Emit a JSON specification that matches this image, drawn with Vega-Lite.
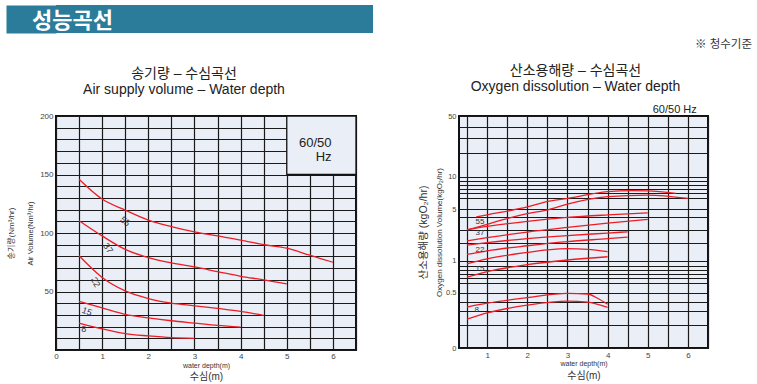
{
  "$schema": "https://vega.github.io/schema/vega-lite/v6.json",
  "padding": {"left": 6, "top": 2, "right": 4, "bottom": 0},
  "background": "white",
  "config": {
    "font": "Liberation Sans, Noto Sans CJK KR",
    "title": {"fontWeight": "normal", "color": "#222", "font": "Liberation Sans, Noto Sans CJK KR"},
    "axis": {"labelFont": "Liberation Sans", "titleFont": "Liberation Sans, Noto Sans CJK KR", "titleFontWeight": "normal", "titleColor": "#333", "labelColor": "#444"}
  },
  "datasets": {
    "air": [
      {"s": "55", "x": 0.5, "y": 146}, {"s": "55", "x": 1, "y": 129}, {"s": "55", "x": 1.5, "y": 119.5}, {"s": "55", "x": 2, "y": 111}, {"s": "55", "x": 2.5, "y": 105.5}, {"s": "55", "x": 3, "y": 101}, {"s": "55", "x": 3.5, "y": 97.5}, {"s": "55", "x": 4, "y": 94}, {"s": "55", "x": 4.5, "y": 90}, {"s": "55", "x": 5, "y": 87}, {"s": "55", "x": 5.5, "y": 81}, {"s": "55", "x": 6, "y": 75},
      {"s": "37", "x": 0.5, "y": 110.5}, {"s": "37", "x": 1, "y": 97.5}, {"s": "37", "x": 1.5, "y": 86}, {"s": "37", "x": 2, "y": 79}, {"s": "37", "x": 2.5, "y": 74.5}, {"s": "37", "x": 3, "y": 71}, {"s": "37", "x": 3.5, "y": 67}, {"s": "37", "x": 4, "y": 63}, {"s": "37", "x": 4.5, "y": 60}, {"s": "37", "x": 5, "y": 56.5},
      {"s": "22", "x": 0.5, "y": 80.5}, {"s": "22", "x": 1, "y": 62}, {"s": "22", "x": 1.5, "y": 50.5}, {"s": "22", "x": 2, "y": 44}, {"s": "22", "x": 2.5, "y": 40}, {"s": "22", "x": 3, "y": 37.8}, {"s": "22", "x": 3.5, "y": 35.5}, {"s": "22", "x": 4, "y": 33}, {"s": "22", "x": 4.5, "y": 29.5},
      {"s": "15", "x": 0.5, "y": 41.5}, {"s": "15", "x": 1, "y": 36}, {"s": "15", "x": 1.5, "y": 30.5}, {"s": "15", "x": 2, "y": 27.5}, {"s": "15", "x": 2.5, "y": 25}, {"s": "15", "x": 3, "y": 23}, {"s": "15", "x": 3.5, "y": 21}, {"s": "15", "x": 4, "y": 19.5},
      {"s": "8", "x": 0.5, "y": 23}, {"s": "8", "x": 1, "y": 18}, {"s": "8", "x": 1.5, "y": 14}, {"s": "8", "x": 2, "y": 12}, {"s": "8", "x": 2.5, "y": 10.5}, {"s": "8", "x": 3, "y": 10}
    ],
    "airLbl": [
      {"t": "55", "x": 1.5, "y": 110},
      {"t": "37", "x": 1.13, "y": 87},
      {"t": "22", "x": 0.86, "y": 58},
      {"t": "15", "x": 0.67, "y": 33},
      {"t": "8", "x": 0.6, "y": 17.6}
    ],
    "oxy": [
      {"s": "55", "hz": "60", "x": 0.73, "y": 4.03}, {"s": "55", "hz": "60", "x": 1, "y": 4.29}, {"s": "55", "hz": "60", "x": 2, "y": 5.1}, {"s": "55", "hz": "60", "x": 2.54, "y": 5.37}, {"s": "55", "hz": "60", "x": 3, "y": 5.5}, {"s": "55", "hz": "60", "x": 4, "y": 6.22}, {"s": "55", "hz": "60", "x": 4.6, "y": 6.5}, {"s": "55", "hz": "60", "x": 5, "y": 6.45}, {"s": "55", "hz": "60", "x": 5.7, "y": 5.94},
      {"s": "55", "hz": "50", "x": 0.5, "y": 2.98}, {"s": "55", "hz": "50", "x": 1, "y": 3.43}, {"s": "55", "hz": "50", "x": 1.54, "y": 3.93}, {"s": "55", "hz": "50", "x": 2, "y": 4.44}, {"s": "55", "hz": "50", "x": 2.54, "y": 4.94}, {"s": "55", "hz": "50", "x": 3, "y": 5.23}, {"s": "55", "hz": "50", "x": 4, "y": 5.65}, {"s": "55", "hz": "50", "x": 5, "y": 5.79}, {"s": "55", "hz": "50", "x": 6, "y": 5.5},
      {"s": "37", "hz": "60", "x": 0.5, "y": 3.0}, {"s": "37", "hz": "60", "x": 1, "y": 3.26}, {"s": "37", "hz": "60", "x": 2, "y": 3.67}, {"s": "37", "hz": "60", "x": 3, "y": 3.98}, {"s": "37", "hz": "60", "x": 4, "y": 4.28}, {"s": "37", "hz": "60", "x": 5, "y": 4.53},
      {"s": "37", "hz": "50", "x": 0.5, "y": 2.14}, {"s": "37", "hz": "50", "x": 1, "y": 2.39}, {"s": "37", "hz": "50", "x": 2, "y": 2.82}, {"s": "37", "hz": "50", "x": 3, "y": 3.18}, {"s": "37", "hz": "50", "x": 4, "y": 3.52}, {"s": "37", "hz": "50", "x": 5, "y": 3.82},
      {"s": "22", "hz": "60", "x": 0.5, "y": 1.86}, {"s": "22", "hz": "60", "x": 1, "y": 2.0}, {"s": "22", "hz": "60", "x": 2, "y": 2.31}, {"s": "22", "hz": "60", "x": 3, "y": 2.55}, {"s": "22", "hz": "60", "x": 4, "y": 2.74}, {"s": "22", "hz": "60", "x": 4.5, "y": 2.84},
      {"s": "22", "hz": "50", "x": 0.5, "y": 1.35}, {"s": "22", "hz": "50", "x": 1, "y": 1.55}, {"s": "22", "hz": "50", "x": 2, "y": 1.83}, {"s": "22", "hz": "50", "x": 3, "y": 2.08}, {"s": "22", "hz": "50", "x": 4, "y": 2.31}, {"s": "22", "hz": "50", "x": 4.5, "y": 2.43},
      {"s": "15", "hz": "60", "x": 0.5, "y": 0.935}, {"s": "15", "hz": "60", "x": 1, "y": 1.1}, {"s": "15", "hz": "60", "x": 2, "y": 1.46}, {"s": "15", "hz": "60", "x": 2.5, "y": 1.6}, {"s": "15", "hz": "60", "x": 3, "y": 1.67}, {"s": "15", "hz": "60", "x": 3.5, "y": 1.63}, {"s": "15", "hz": "60", "x": 4, "y": 1.5},
      {"s": "15", "hz": "50", "x": 0.5, "y": 0.61}, {"s": "15", "hz": "50", "x": 1, "y": 0.75}, {"s": "15", "hz": "50", "x": 2, "y": 0.92}, {"s": "15", "hz": "50", "x": 3, "y": 1.04}, {"s": "15", "hz": "50", "x": 4, "y": 1.22},
      {"s": "8", "hz": "60", "x": 0.5, "y": 0.346}, {"s": "8", "hz": "60", "x": 1, "y": 0.386}, {"s": "8", "hz": "60", "x": 2, "y": 0.447}, {"s": "8", "hz": "60", "x": 3, "y": 0.494}, {"s": "8", "hz": "60", "x": 3.5, "y": 0.487}, {"s": "8", "hz": "60", "x": 3.75, "y": 0.44}, {"s": "8", "hz": "60", "x": 4, "y": 0.375},
      {"s": "8", "hz": "50", "x": 0.5, "y": 0.241}, {"s": "8", "hz": "50", "x": 1, "y": 0.288}, {"s": "8", "hz": "50", "x": 2, "y": 0.365}, {"s": "8", "hz": "50", "x": 3, "y": 0.408}, {"s": "8", "hz": "50", "x": 3.5, "y": 0.397}, {"s": "8", "hz": "50", "x": 4, "y": 0.342}
    ],
    "oxyLbl": [
      {"t": "55", "x": 0.82, "y": 3.63},
      {"t": "37", "x": 0.82, "y": 2.74},
      {"t": "22", "x": 0.82, "y": 1.59},
      {"t": "15", "x": 0.82, "y": 0.82},
      {"t": "8", "x": 0.74, "y": 0.31}
    ]
  },
  "spacing": 11,
  "vconcat": [
    {
      "spacing": 279,
      "hconcat": [
        {
          "width": 317, "height": 28,
          "view": {"fill": "#2b7c9a", "stroke": null},
          "title": {"text": "성능곡선", "anchor": "start", "frame": "bounds", "offset": -31, "dx": 1, "color": "white", "fontSize": 22, "fontWeight": "bold", "font": "Noto Sans CJK KR"},
          "data": {"values": [{"v": 1}]},
          "mark": {"type": "point", "opacity": 0},
          "encoding": {
            "y": {"field": "v", "type": "quantitative", "axis": {"orient": "left", "domain": true, "domainColor": "#2b7c9a", "domainWidth": 50, "domainCap": "butt", "offset": 25, "labels": false, "ticks": false, "grid": false, "title": null}}
          }
        },
        {
          "width": 100, "height": 28,
          "view": {"stroke": null},
          "title": {"text": "※ 청수기준", "orient": "bottom", "anchor": "end", "offset": 6, "fontSize": 11.5, "color": "#333"},
          "data": {"values": [{"v": 1}]},
          "mark": {"type": "point", "opacity": 0},
          "encoding": {}
        }
      ]
    },
    {
      "spacing": 59,
      "hconcat": [
        {
          "width": 300, "height": 234,
          "view": {"fill": "#e9eef7", "stroke": "#111", "strokeWidth": 2},
          "title": {"text": ["송기량 – 수심곡선", "Air supply volume – Water depth"], "fontSize": 14, "lineHeight": 16, "offset": 15, "dx": -22},
          "resolve": {"axis": {"x": "independent", "y": "independent"}},
          "layer": [
            {
              "data": {"name": "air"},
              "mark": {"type": "line", "color": "#ee1c25", "strokeWidth": 1.3, "interpolate": "monotone"},
              "encoding": {
                "x": {"field": "x", "type": "quantitative", "scale": {"domain": [0, 6.5], "nice": false, "zero": false},
                  "axis": {"orient": "bottom", "values": [0, 0.5, 1, 1.5, 2, 2.5, 3, 3.5, 4, 4.5, 5, 5.5, 6, 6.5], "labelExpr": "datum.value % 1 == 0 && datum.value <= 6 ? '' + datum.value : ''", "labelFlush": false, "labelOverlap": false, "grid": true, "gridColor": "#1a1a1a", "gridWidth": 1.2, "gridOpacity": 1, "ticks": false, "tickSize": 0, "domain": false, "labelFontSize": 8, "labelPadding": 2, "title": "water depth(m)", "titleFontSize": 7, "titlePadding": 1}},
                "y": {"field": "y", "type": "quantitative", "scale": {"domain": [0, 200], "nice": false, "zero": false},
                  "axis": {"orient": "left", "values": [0, 10, 20, 30, 40, 50, 60, 70, 80, 90, 100, 110, 120, 130, 140, 150, 160, 170, 180, 190, 200], "labelExpr": "datum.value % 50 == 0 && datum.value > 0 ? '' + datum.value : ''", "labelFlush": false, "labelOverlap": false, "grid": true, "gridColor": "#1a1a1a", "gridWidth": 1.2, "gridOpacity": 1, "ticks": false, "tickSize": 0, "domain": false, "labelFontSize": 8, "labelPadding": 3, "title": "Air Volume(Nm³/hr)", "titleFontSize": 7.5, "titlePadding": 5}},
                "detail": {"field": "s"}
              }
            },
            {
              "data": {"values": [{"x1": 5, "x2": 6.5, "y1": 150, "y2": 200}]},
              "mark": {"type": "rect", "fill": "#e9eef7", "stroke": "#111", "strokeWidth": 1.3},
              "encoding": {
                "x": {"field": "x1", "type": "quantitative", "scale": {"domain": [0, 6.5], "nice": false, "zero": false},
                  "axis": {"orient": "bottom", "title": "수심(m)", "titleFontSize": 10, "labels": false, "ticks": false, "domain": false, "grid": false, "titlePadding": 21}},
                "x2": {"field": "x2"},
                "y": {"field": "y1", "type": "quantitative", "scale": {"domain": [0, 200], "nice": false, "zero": false},
                  "axis": {"orient": "left", "title": "송기량(Nm³/hr)", "titleFontSize": 8, "labels": false, "ticks": false, "domain": false, "grid": false, "titlePadding": 41}},
                "y2": {"field": "y2"}
              }
            },
            {
              "data": {"values": [{"t": "60/50", "x": 5.97, "y": 176.8}, {"t": "Hz", "x": 5.97, "y": 165.3}]},
              "mark": {"type": "text", "align": "right", "baseline": "middle", "fontSize": 13, "color": "#222"},
              "encoding": {
                "x": {"field": "x", "type": "quantitative", "scale": {"domain": [0, 6.5], "nice": false, "zero": false}, "axis": null},
                "y": {"field": "y", "type": "quantitative", "scale": {"domain": [0, 200], "nice": false, "zero": false}, "axis": null},
                "text": {"field": "t"}
              }
            },
            {
              "data": {"name": "airLbl"},
              "transform": [{"filter": "datum.t == '55'"}],
              "mark": {"type": "text", "fontSize": 9, "color": "#333", "angle": 40, "baseline": "middle"},
              "encoding": {
                "x": {"field": "x", "type": "quantitative", "scale": {"domain": [0, 6.5], "nice": false, "zero": false}, "axis": null},
                "y": {"field": "y", "type": "quantitative", "scale": {"domain": [0, 200], "nice": false, "zero": false}, "axis": null},
                "text": {"field": "t"}
              }
            },
            {
              "data": {"name": "airLbl"},
              "transform": [{"filter": "datum.t == '37'"}],
              "mark": {"type": "text", "fontSize": 9, "color": "#333", "angle": 55, "baseline": "middle"},
              "encoding": {
                "x": {"field": "x", "type": "quantitative", "scale": {"domain": [0, 6.5], "nice": false, "zero": false}, "axis": null},
                "y": {"field": "y", "type": "quantitative", "scale": {"domain": [0, 200], "nice": false, "zero": false}, "axis": null},
                "text": {"field": "t"}
              }
            },
            {
              "data": {"name": "airLbl"},
              "transform": [{"filter": "datum.t == '22'"}],
              "mark": {"type": "text", "fontSize": 9, "color": "#333", "angle": 62, "baseline": "middle"},
              "encoding": {
                "x": {"field": "x", "type": "quantitative", "scale": {"domain": [0, 6.5], "nice": false, "zero": false}, "axis": null},
                "y": {"field": "y", "type": "quantitative", "scale": {"domain": [0, 200], "nice": false, "zero": false}, "axis": null},
                "text": {"field": "t"}
              }
            },
            {
              "data": {"name": "airLbl"},
              "transform": [{"filter": "datum.t == '15'"}],
              "mark": {"type": "text", "fontSize": 9, "color": "#333", "angle": 20, "baseline": "middle"},
              "encoding": {
                "x": {"field": "x", "type": "quantitative", "scale": {"domain": [0, 6.5], "nice": false, "zero": false}, "axis": null},
                "y": {"field": "y", "type": "quantitative", "scale": {"domain": [0, 200], "nice": false, "zero": false}, "axis": null},
                "text": {"field": "t"}
              }
            },
            {
              "data": {"name": "airLbl"},
              "transform": [{"filter": "datum.t == '8'"}],
              "mark": {"type": "text", "fontSize": 9, "color": "#333", "baseline": "middle"},
              "encoding": {
                "x": {"field": "x", "type": "quantitative", "scale": {"domain": [0, 6.5], "nice": false, "zero": false}, "axis": null},
                "y": {"field": "y", "type": "quantitative", "scale": {"domain": [0, 200], "nice": false, "zero": false}, "axis": null},
                "text": {"field": "t"}
              }
            }
          ]
        },
        {
          "width": 249, "height": 232,
          "view": {"fill": "#e9eef7", "stroke": "#111", "strokeWidth": 2},
          "title": {"text": ["산소용해량 – 수심곡선", "Oxygen dissolution – Water depth"], "fontSize": 14, "lineHeight": 16, "offset": 10, "dx": -8},
          "resolve": {"axis": {"x": "independent", "y": "independent"}},
          "layer": [
            {
              "data": {"name": "oxy"},
              "mark": {"type": "line", "color": "#ee1c25", "strokeWidth": 1.3, "interpolate": "monotone"},
              "encoding": {
                "x": {"field": "x", "type": "quantitative", "scale": {"domain": [0.3, 6.5], "nice": false, "zero": false},
                  "axis": {"orient": "bottom", "values": [0.5, 1, 1.5, 2, 2.5, 3, 3.5, 4, 4.5, 5, 5.5, 6, 6.5], "labelExpr": "datum.value % 1 == 0 && datum.value <= 6 ? '' + datum.value : ''", "labelFlush": false, "labelOverlap": false, "grid": true, "gridColor": "#1a1a1a", "gridWidth": 1.2, "gridOpacity": 1, "ticks": false, "tickSize": 0, "domain": false, "labelFontSize": 8, "labelPadding": 3, "title": "water depth(m)", "titleFontSize": 7, "titlePadding": 0}},
                "y": {"field": "y", "type": "quantitative", "scale": {"type": "linear", "domain": [0.1, 0.2, 0.3, 0.4, 0.5, 0.55, 0.6, 0.7, 0.8, 0.9, 1, 2, 3, 4, 5, 5.5, 6, 7, 8, 9, 10, 20, 30, 40, 50], "range": [232, 208.6, 195.4, 185.9, 176.8, 166.9, 161.6, 157.5, 153.9, 149.6, 144.7, 126.7, 113.7, 101.2, 93.1, 82.4, 76.6, 72.6, 69.4, 65.3, 60.8, 37.3, 21.9, 10.7, 0], "nice": false, "zero": false},
                  "axis": {"orient": "left", "values": [0.1, 0.2, 0.3, 0.4, 0.5, 0.55, 0.6, 0.7, 0.8, 0.9, 1, 2, 3, 4, 5, 5.5, 6, 7, 8, 9, 10, 20, 30, 40, 50], "labelExpr": "datum.value == 0.1 ? '0' : ((datum.value == 50 || datum.value == 10 || datum.value == 5 || datum.value == 1 || datum.value == 0.5) ? '' + datum.value : '')", "labelFlush": false, "labelOverlap": false, "grid": true, "gridColor": "#1a1a1a", "gridWidth": 1.2, "gridOpacity": 1, "ticks": false, "tickSize": 0, "domain": false, "labelFontSize": 7.5, "labelPadding": 3, "title": "Oxygen dissolution Volume(kgO₂/hr)", "titleFontSize": 8, "titlePadding": 2}},
                "detail": [{"field": "s"}, {"field": "hz"}]
              }
            },
            {
              "data": {"values": [{"t": "60/50  Hz", "x": 6.22, "y": 55.9}]},
              "mark": {"type": "text", "align": "right", "baseline": "middle", "fontSize": 11, "color": "#222"},
              "encoding": {
                "x": {"field": "x", "type": "quantitative", "scale": {"domain": [0.3, 6.5], "nice": false, "zero": false},
                  "axis": {"orient": "bottom", "title": "수심(m)", "titleFontSize": 10, "labels": false, "ticks": false, "domain": false, "grid": false, "titlePadding": 22}},
                "y": {"field": "y", "type": "quantitative", "scale": {"type": "linear", "domain": [0.1, 0.2, 0.3, 0.4, 0.5, 0.55, 0.6, 0.7, 0.8, 0.9, 1, 2, 3, 4, 5, 5.5, 6, 7, 8, 9, 10, 20, 30, 40, 50], "range": [232, 208.6, 195.4, 185.9, 176.8, 166.9, 161.6, 157.5, 153.9, 149.6, 144.7, 126.7, 113.7, 101.2, 93.1, 82.4, 76.6, 72.6, 69.4, 65.3, 60.8, 37.3, 21.9, 10.7, 0], "nice": false, "zero": false},
                  "axis": {"orient": "left", "title": "산소용해량 (kgO₂/hr)", "titleFontSize": 10.5, "labels": false, "ticks": false, "domain": false, "grid": false, "titlePadding": 31}},
                "text": {"field": "t"}
              }
            },
            {
              "data": {"name": "oxyLbl"},
              "mark": {"type": "text", "fontSize": 8, "color": "#333", "baseline": "middle"},
              "encoding": {
                "x": {"field": "x", "type": "quantitative", "scale": {"domain": [0.3, 6.5], "nice": false, "zero": false}, "axis": null},
                "y": {"field": "y", "type": "quantitative", "scale": {"type": "linear", "domain": [0.1, 0.2, 0.3, 0.4, 0.5, 0.55, 0.6, 0.7, 0.8, 0.9, 1, 2, 3, 4, 5, 5.5, 6, 7, 8, 9, 10, 20, 30, 40, 50], "range": [232, 208.6, 195.4, 185.9, 176.8, 166.9, 161.6, 157.5, 153.9, 149.6, 144.7, 126.7, 113.7, 101.2, 93.1, 82.4, 76.6, 72.6, 69.4, 65.3, 60.8, 37.3, 21.9, 10.7, 0], "nice": false, "zero": false}, "axis": null},
                "text": {"field": "t"}
              }
            }
          ]
        }
      ]
    }
  ]
}
